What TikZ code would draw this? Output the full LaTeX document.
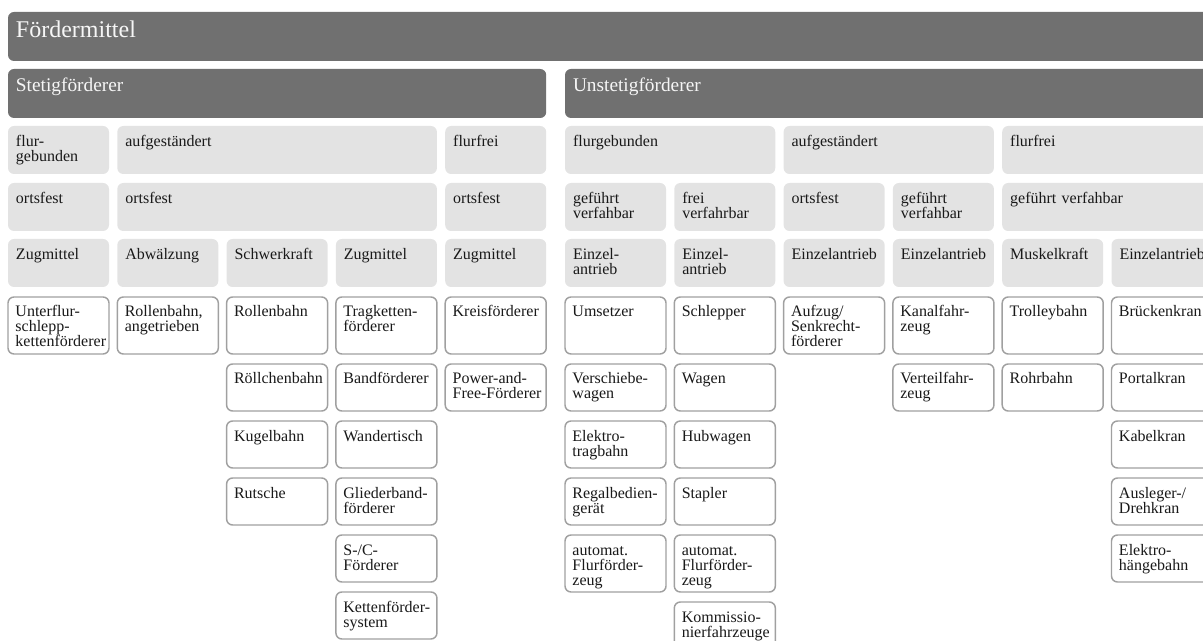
\documentclass[tikz,border=0pt]{standalone}
\usepackage{fontspec}
\setmainfont{Liberation Serif}
\usepackage{xcolor}
\usepackage{tikz}
\usetikzlibrary{positioning}

\definecolor{barfill}{RGB}{112,112,112}
\definecolor{bartext}{RGB}{246,246,246}
\definecolor{cellfill}{RGB}{227,227,227}
\definecolor{leafline}{RGB}{160,160,160}
\definecolor{inktext}{RGB}{25,25,25}
\newcommand{\boxfont}{\fontsize{12pt}{11.25pt}\selectfont}
\newcommand{\topfont}{\fontsize{18pt}{20pt}\selectfont}
\newcommand{\midfont}{\fontsize{14.5pt}{16pt}\selectfont}
\hyphenpenalty=10000
\exhyphenpenalty=10000

\begin{document}
\begin{tikzpicture}[x=0.75pt,y=-0.75pt,node distance=7.5pt,
  bar/.style={fill=barfill,text=bartext,rounded corners=4.5pt,anchor=north west,
    inner xsep=6pt,inner ysep=0pt,outer sep=0pt,align=left},
  cell/.style={fill=cellfill,text=inktext,rounded corners=4.5pt,anchor=north west,
    inner xsep=6pt,inner ysep=0pt,outer sep=0pt,align=left,font=\boxfont,
    text width=63.75pt,text height=15.4pt,text depth=20.6pt},
  span2/.style={cell,text width=145.7pt},
  span3/.style={cell,text width=227.7pt},
  leaf/.style={draw=leafline,line width=1.1pt,fill=white,text=inktext,
    rounded corners=4.5pt,anchor=north west,inner xsep=5.6pt,inner ysep=0pt,
    outer sep=0pt,align=left,font=\boxfont,
    text width=64.55pt,text height=15pt,text depth=20.25pt},
  leaf3/.style={leaf,text depth=27.75pt}]
\useasboundingbox (0,0) rectangle (1203,641);
\clip (0,0) rectangle (1203,641);
% Kopfzeilen
\node[bar,font=\topfont,text width=891.4pt,text height=19pt,text depth=17.75pt] (fm) at (8,12) {Fördermittel};
\node[bar,font=\midfont,text width=391.65pt,text height=17pt,text depth=19.75pt] (stetig) at (8,69) {Stetigförderer};
\node[bar,font=\midfont,text width=473.6pt,text height=17pt,text depth=19.75pt] (unstetig) at (565,69) {Unstetigförderer};
% Stetigfoerderer: Merkmale
\node[cell] (s-fg) at (8,126) {flur-\\gebunden};
\node[span3] (s-auf) at (117.3,126) {aufgeständert};
\node[cell] (s-ff) at (445.2,126) {flurfrei};
\node[cell] (s-of1) at (8,183) {ortsfest};
\node[span3] (s-of2) at (117.3,183) {ortsfest};
\node[cell] (s-of3) at (445.2,183) {ortsfest};
\node[cell] (s-zm1) at (8,239) {Zugmittel};
\node[cell] (s-abw) at (117.3,239) {Abwälzung};
\node[cell] (s-sk) at (226.6,239) {Schwerkraft};
\node[cell] (s-zm2) at (335.9,239) {Zugmittel};
\node[cell] (s-zm3) at (445.2,239) {Zugmittel};
% Stetigfoerderer: Bauarten
\node[leaf3] (unterflur) at (8,297) {Unterflur-\\schlepp-\\kettenförderer};
\node[leaf3] (rollen1) at (117.3,297) {Rollenbahn,\\angetrieben};
\node[leaf3] (rollen2) at (226.6,297) {Rollenbahn};
\node[leaf,below=of rollen2] (roellchen) {Röllchenbahn};
\node[leaf,below=of roellchen] (kugel) {Kugelbahn};
\node[leaf,below=of kugel] (rutsche) {Rutsche};
\node[leaf3] (tragketten) at (335.9,297) {Tragketten-\\förderer};
\node[leaf,below=of tragketten] (band) {Bandförderer};
\node[leaf,below=of band] (wander) {Wandertisch};
\node[leaf,below=of wander] (glieder) {Gliederband-\\förderer};
\node[leaf,below=of glieder] (sc) {S-/C-\\Förderer};
\node[leaf,below=of sc] (kettensys) {Kettenförder-\\system};
\node[leaf3] (kreis) at (445.2,297) {Kreisförderer};
\node[leaf,below=of kreis] (pf) {Power-and-\\Free-Förderer};
% Unstetigfoerderer: Merkmale
\node[span2] (u-fg) at (565,126) {flurgebunden};
\node[span2] (u-auf) at (783.6,126) {aufgeständert};
\node[span2] (u-ff) at (1002.2,126) {flurfrei};
\node[cell] (u-gv1) at (565,183) {geführt\\verfahbar};
\node[cell] (u-fv) at (674.3,183) {frei\\verfahrbar};
\node[cell] (u-of) at (783.6,183) {ortsfest};
\node[cell] (u-gv2) at (892.9,183) {geführt\\verfahbar};
\node[span2] (u-gv3) at (1002.2,183) {geführt verfahbar};
\node[cell] (u-ea1) at (565,239) {Einzel-\\antrieb};
\node[cell] (u-ea2) at (674.3,239) {Einzel-\\antrieb};
\node[cell] (u-ea3) at (783.6,239) {Einzelantrieb};
\node[cell] (u-ea4) at (892.9,239) {Einzelantrieb};
\node[cell] (u-mk) at (1002.2,239) {Muskelkraft};
\node[cell] (u-ea5) at (1111.5,239) {Einzelantrieb};
% Unstetigfoerderer: Bauarten
\node[leaf3] (umsetzer) at (565,297) {Umsetzer};
\node[leaf,below=of umsetzer] (verschiebe) {Verschiebe-\\wagen};
\node[leaf,below=of verschiebe] (etb) {Elektro-\\tragbahn};
\node[leaf,below=of etb] (rbg) {Regalbedien-\\gerät};
\node[leaf3,below=of rbg] (fts1) {automat.\\Flurförder-\\zeug};
\node[leaf3] (schlepper) at (674.3,297) {Schlepper};
\node[leaf,below=of schlepper] (wagen) {Wagen};
\node[leaf,below=of wagen] (hubwagen) {Hubwagen};
\node[leaf,below=of hubwagen] (stapler) {Stapler};
\node[leaf3,below=of stapler] (fts2) {automat.\\Flurförder-\\zeug};
\node[leaf,below=of fts2] (kommi) {Kommissio-\\nierfahrzeuge};
\node[leaf3] (aufzug) at (783.6,297) {Aufzug/\\Senkrecht-\\förderer};
\node[leaf3] (kanal) at (892.9,297) {Kanalfahr-\\zeug};
\node[leaf,below=of kanal] (verteil) {Verteilfahr-\\zeug};
\node[leaf3] (trolley) at (1002.2,297) {Trolleybahn};
\node[leaf,below=of trolley] (rohr) {Rohrbahn};
\node[leaf3] (bruecke) at (1111.5,297) {Brückenkran};
\node[leaf,below=of bruecke] (portal) {Portalkran};
\node[leaf,below=of portal] (kabel) {Kabelkran};
\node[leaf,below=of kabel] (ausleger) {Ausleger-/\\Drehkran};
\node[leaf,below=of ausleger] (ehb) {Elektro-\\hängebahn};
\end{tikzpicture}
\end{document}
